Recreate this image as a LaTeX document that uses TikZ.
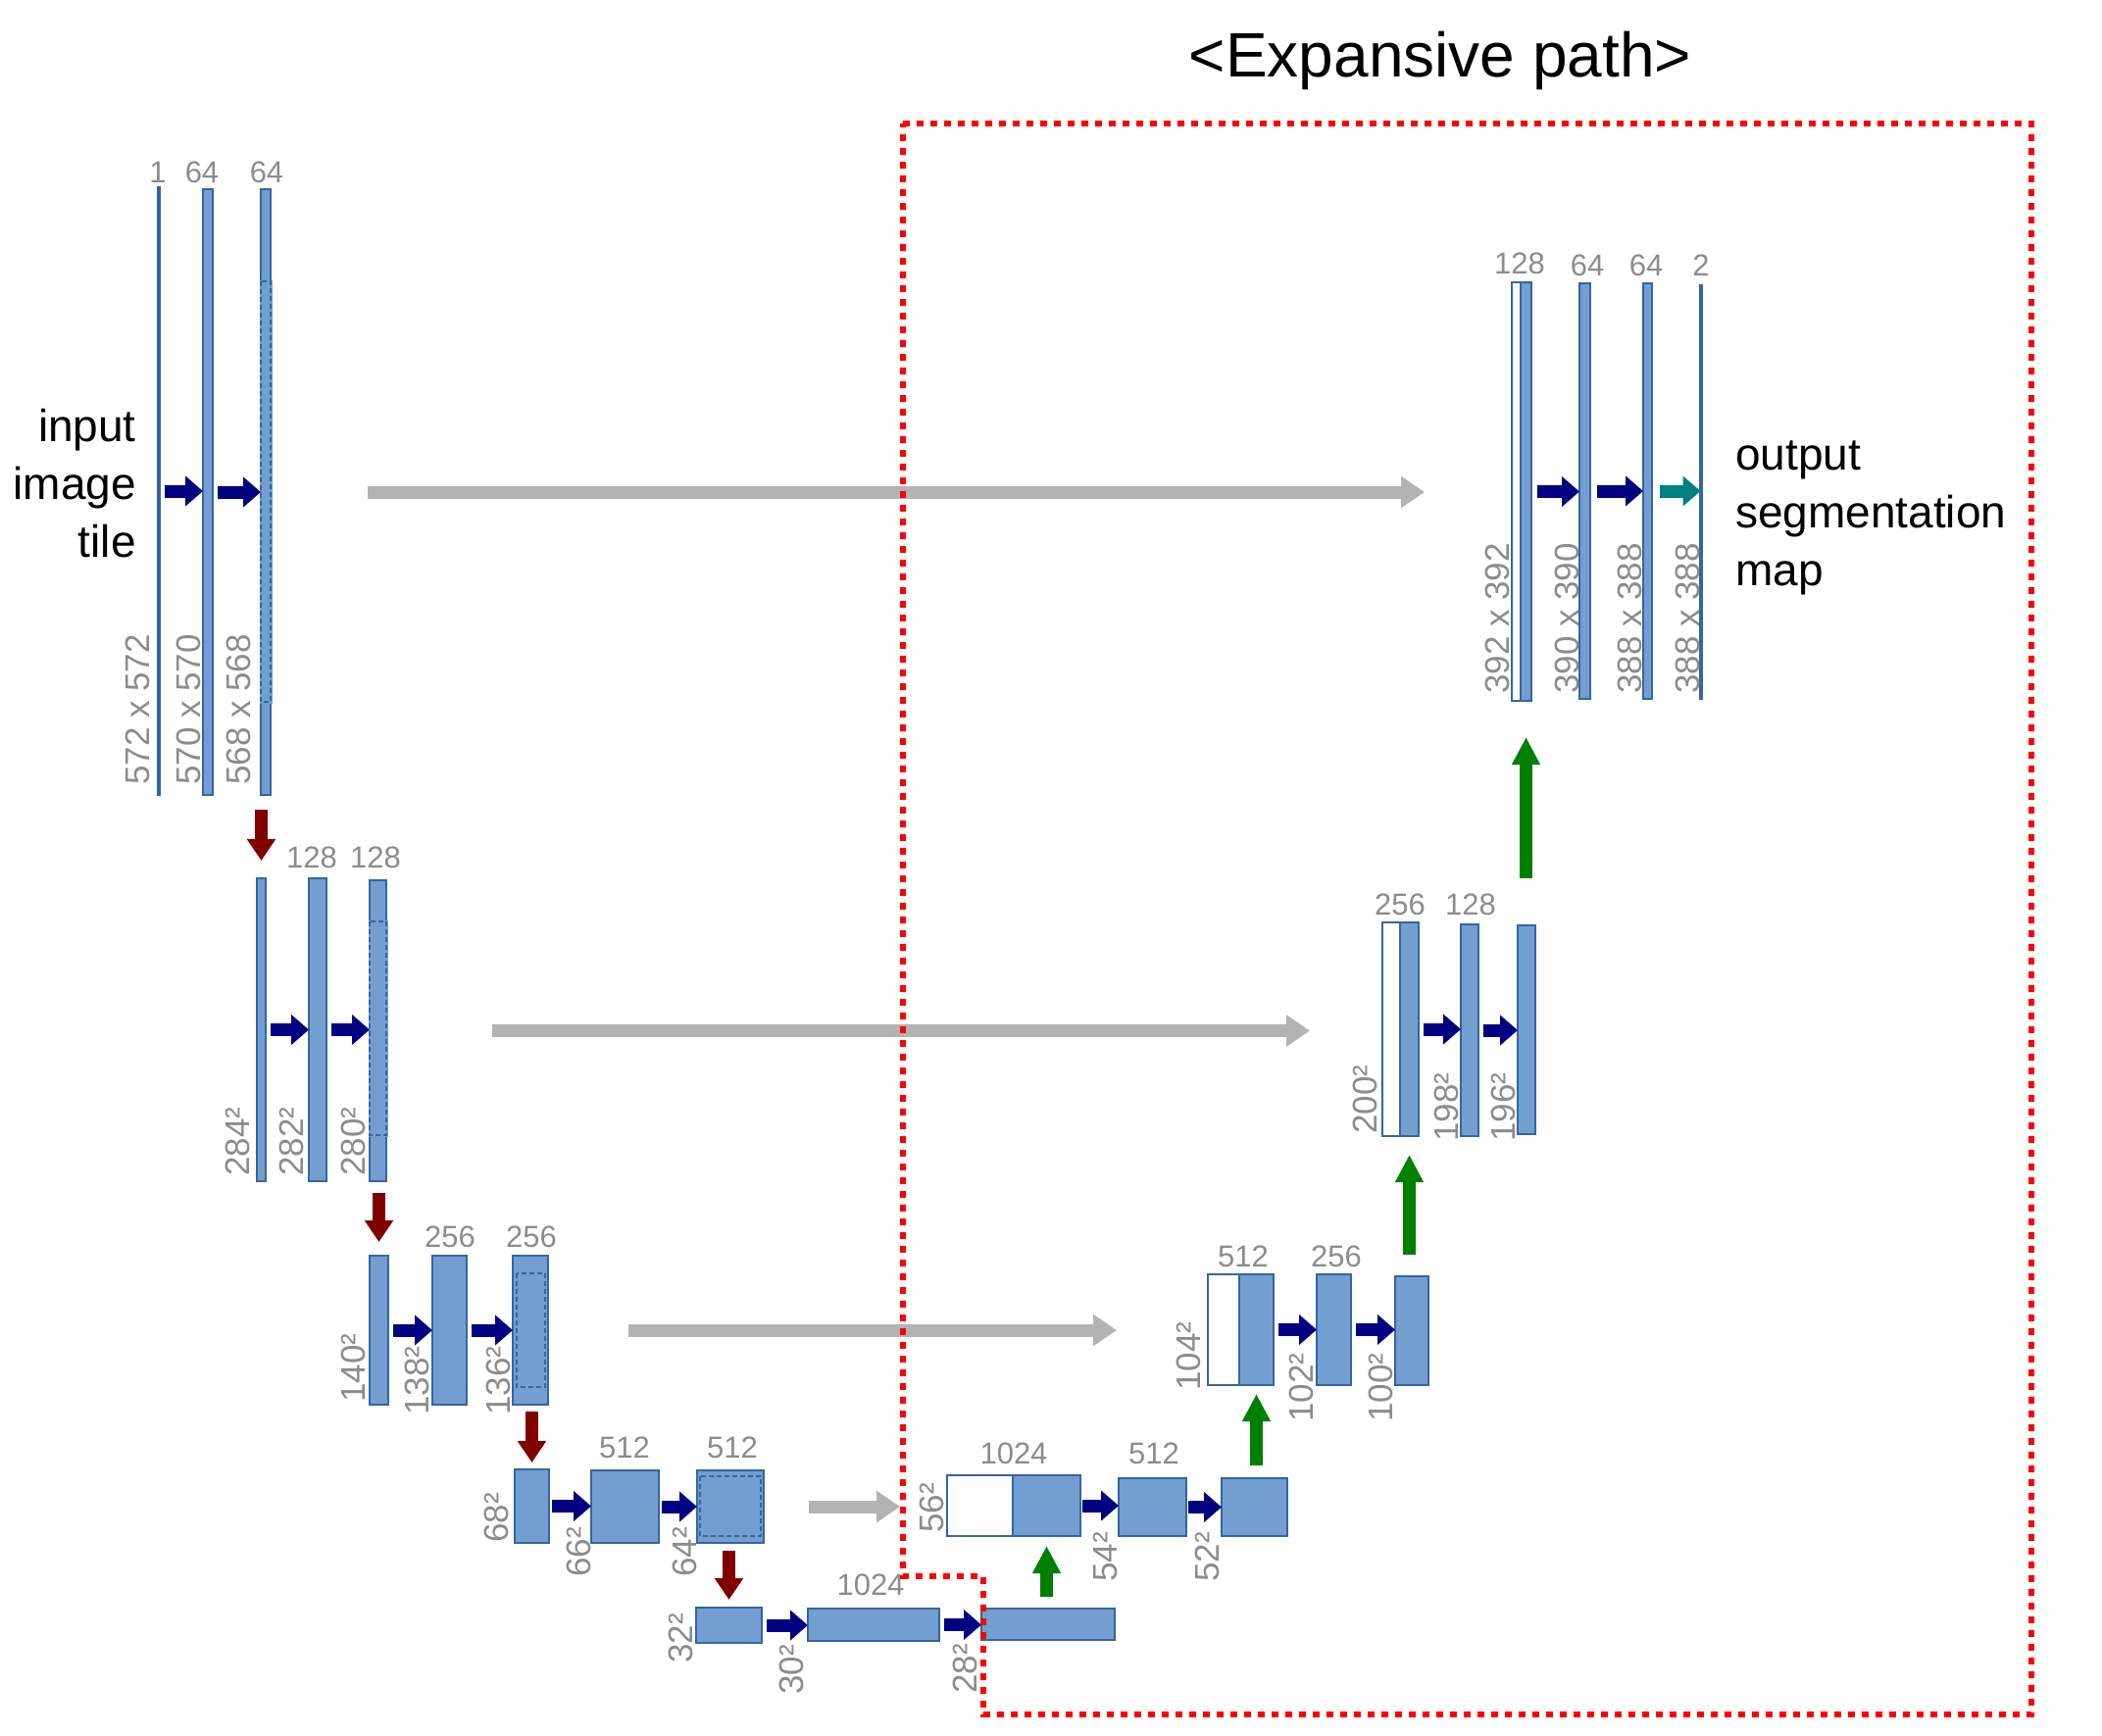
\documentclass[tikz,border=0pt]{standalone}
\usepackage{fontspec}
\setmainfont{Liberation Sans}
\usetikzlibrary{arrows.meta,calc}
\definecolor{barfill}{HTML}{729FCF}
\definecolor{bardraw}{HTML}{3465A4}
\definecolor{convblue}{HTML}{000080}
\definecolor{poolred}{HTML}{800000}
\definecolor{upgreen}{HTML}{008000}
\definecolor{outteal}{HTML}{008080}
\definecolor{skipgray}{HTML}{B3B3B3}
\definecolor{lblgray}{HTML}{8C8C8C}
\definecolor{boxred}{HTML}{FF0000}
\begin{document}
\begin{tikzpicture}[x=1pt,y=-1pt,
  blk/.style={rectangle, draw=bardraw, fill=barfill, line width=2.5pt, inner sep=0pt, outer sep=0pt, anchor=north west},
  wblk/.style={blk, fill=white},
  lbl/.style={text=lblgray, font=\fontsize{31}{36}\selectfont, inner sep=0pt},
  rlbl/.style={text=lblgray, font=\fontsize{35}{40}\selectfont, inner sep=0pt, rotate=90, anchor=west},
  conv/.style={draw=convblue, line width=13pt, shorten <=5pt, -{Triangle[length=18pt,width=30pt]}},
  pool/.style={draw=poolred, line width=13pt, -{Triangle[length=22pt,width=28pt]}},
  upc/.style={draw=upgreen, line width=13pt, -{Triangle[length=28pt,width=27pt]}},
  skip/.style={draw=skipgray, line width=13pt, -{Triangle[length=24pt,width=31pt]}},
  dashovr/.style={draw=bardraw, line width=2.8pt, dash pattern=on 5pt off 3pt},
  erase/.style={draw=barfill, line width=3pt},
  bigtxt/.style={font=\fontsize{46}{59}\selectfont, inner sep=0pt}
]
\useasboundingbox (0,0) rectangle (2144,1770);

% title
\node[font=\fontsize{64}{77}\selectfont, inner sep=0pt] (title) at (1469,62) {<Expansive path>};

% ---------- level 1 ----------
\node[blk, minimum width=1pt, minimum height=620pt] (b11) at (161.5,191) {};
\node[blk, minimum width=10pt, minimum height=618pt] (b12) at (207,193) {};
\node[blk, minimum width=10pt, minimum height=618pt] (b13) at (266,193) {};
\draw[erase] (266,287) rectangle (276,716);
\draw[dashovr] (266,287) rectangle (276,716);

% ---------- level 2 ----------
\node[blk, minimum width=9pt, minimum height=309pt] (b21) at (262,896) {};
\node[blk, minimum width=18pt, minimum height=309pt] (b22) at (315,896) {};
\node[blk, minimum width=17pt, minimum height=307pt] (b23) at (377,898) {};
\draw[erase] (377,940) rectangle (394,1158);
\draw[dashovr] (377,940) rectangle (394,1158);

% ---------- level 3 ----------
\node[blk, minimum width=19pt, minimum height=152pt] (b31) at (377,1281) {};
\node[blk, minimum width=35pt, minimum height=152pt] (b32) at (441,1281) {};
\node[blk, minimum width=36pt, minimum height=152pt] (b33) at (523,1281) {};
\draw[dashovr] (527,1299) rectangle (556,1415);

% ---------- level 4 ----------
\node[blk, minimum width=35pt, minimum height=75pt] (b41) at (525,1499) {};
\node[blk, minimum width=69pt, minimum height=74pt] (b42) at (603,1500) {};
\node[blk, minimum width=68pt, minimum height=74pt] (b43) at (711,1500) {};
\draw[dashovr] (714,1506) rectangle (776,1567);

% ---------- level 5 ----------
\node[blk, minimum width=67pt, minimum height=36pt] (b51) at (710,1640) {};
\node[blk, minimum width=134pt, minimum height=33pt] (b52) at (824,1641) {};
\node[blk, minimum width=136pt, minimum height=32pt] (b53) at (1001,1641) {};

% ---------- up level 4 ----------
\node[wblk, minimum width=67pt, minimum height=62pt] (u4w) at (966,1505) {};
\node[blk, minimum width=69pt, minimum height=62pt] (u4b) at (1033,1505) {};
\node[blk, minimum width=69pt, minimum height=59pt] (u4c) at (1141,1508) {};
\node[blk, minimum width=67pt, minimum height=59pt] (u4d) at (1246,1508) {};

% ---------- up level 3 ----------
\node[wblk, minimum width=32pt, minimum height=113pt] (u3w) at (1232,1300) {};
\node[blk, minimum width=35pt, minimum height=113pt] (u3b) at (1264,1300) {};
\node[blk, minimum width=35pt, minimum height=113pt] (u3c) at (1343,1300) {};
\node[blk, minimum width=34pt, minimum height=111pt] (u3d) at (1423,1302) {};

% ---------- up level 2 ----------
\node[wblk, minimum width=18pt, minimum height=218pt] (u2w) at (1410,941) {};
\node[blk, minimum width=19pt, minimum height=218pt] (u2b) at (1428,941) {};
\node[blk, minimum width=18pt, minimum height=216pt] (u2c) at (1490,943) {};
\node[blk, minimum width=18pt, minimum height=213pt] (u2d) at (1548,944) {};

% ---------- up level 1 ----------
\node[wblk, minimum width=9pt, minimum height=427pt] (u1w) at (1542,288) {};
\node[blk, minimum width=11pt, minimum height=427pt] (u1b) at (1551,288) {};
\node[blk, minimum width=11pt, minimum height=424pt] (u1c) at (1611,289) {};
\node[blk, minimum width=9pt, minimum height=424pt] (u1d) at (1676,289) {};
\node[blk, minimum width=1pt, minimum height=422pt] (u1e) at (1734.5,291) {};

% ---------- conv arrows ----------
\draw[conv] (b11.east) -- (b11.east -| b12.west);
\draw[conv] (b12.east) -- (b12.east -| b13.west);
\draw[conv] (b21.east) -- (b21.east -| b22.west);
\draw[conv] (b22.east) -- (b22.east -| b23.west);
\draw[conv] (b31.east) -- (b31.east -| b32.west);
\draw[conv] (b32.east) -- (b32.east -| b33.west);
\draw[conv, shorten <=3pt] (b41.east) -- (b41.east -| b42.west);
\draw[conv, shorten <=3pt] (b42.east) -- (b42.east -| b43.west);
\draw[conv] (b51.east) -- (b51.east -| b52.west);
\draw[conv] (b52.east) -- (b52.east -| b53.west);
\draw[conv, shorten <=2pt] (u4b.east) -- (u4b.east -| u4c.west);
\draw[conv, shorten <=2pt] (u4c.east) -- (u4c.east -| u4d.west);
\draw[conv] (u3b.east) -- (u3b.east -| u3c.west);
\draw[conv] (u3c.east) -- (u3c.east -| u3d.west);
\draw[conv] (u2b.east) -- (u2b.east -| u2c.west);
\draw[conv] (u2c.east) -- (u2c.east -| u2d.west);
\draw[conv, shorten <=6pt] (u1b.east) -- (u1b.east -| u1c.west);
\draw[conv, shorten <=7pt] (u1c.east) -- (u1c.east -| u1d.west);
\draw[conv, draw=outteal, shorten <=8pt] (u1d.east) -- (u1d.east -| u1e.west);

% ---------- pooling arrows ----------
\draw[pool, shorten <=15pt, shorten >=18pt] (b13.south -| b21.north) -- (b21.north);
\draw[pool, shorten <=12pt, shorten >=14pt] (b23.south -| b31.north) -- (b31.north);
\draw[pool, shorten <=7pt, shorten >=7pt] (b33.south -| b41.north) -- (b41.north);
\draw[pool, shorten <=8pt, shorten >=8pt] (b43.south -| b51.north) -- (b51.north);

% ---------- up-conv arrows ----------
\draw[upc, shorten <=12pt, shorten >=10pt] (b53.north -| u4b.south) -- (u4b.south);
\draw[upc, shorten <=13pt, shorten >=9pt] (u4d.north -| u3b.south) -- (u3b.south);
\draw[upc, shorten <=22pt, shorten >=19pt] (u3d.north -| u2b.south) -- (u2b.south);
\draw[upc, shorten <=48pt, shorten >=37pt] (u2d.north -| u1b.south) -- (u1b.south);

% ---------- skip connections ----------
\draw[skip, shorten <=99pt, shorten >=89pt] (b13.east) -- (b13.east -| u1w.west);
\draw[skip, shorten <=108pt, shorten >=74pt] (b23.east) -- (b23.east -| u2w.west);
\draw[skip, shorten <=82pt, shorten >=93pt] (b33.east) -- (b33.east -| u3w.west);
\draw[skip, shorten <=46pt, shorten >=48pt] (b43.east) -- (b43.east -| u4w.west);

% ---------- channel labels ----------
\node[lbl] (t11) at (161,176) {1};
\node[lbl] (t12) at (206,176) {64};
\node[lbl] (t13) at (272,176) {64};
\node[lbl] (t22) at (318,875) {128};
\node[lbl] (t23) at (383,875) {128};
\node[lbl] (t32) at (459,1262) {256};
\node[lbl] (t33) at (542,1262) {256};
\node[lbl] (t42) at (637,1477) {512};
\node[lbl] (t43) at (747,1477) {512};
\node[lbl] (t52) at (888,1617) {1024};
\node[lbl] (tu4b) at (1034,1483) {1024};
\node[lbl] (tu4c) at (1177,1483) {512};
\node[lbl] (tu3b) at (1268,1282) {512};
\node[lbl] (tu3c) at (1363,1282) {256};
\node[lbl] (tu2b) at (1428,923) {256};
\node[lbl] (tu2c) at (1500,923) {128};
\node[lbl] (tu1b) at (1550,269) {128};
\node[lbl] (tu1c) at (1619,271) {64};
\node[lbl] (tu1d) at (1679,271) {64};
\node[lbl] (tu1e) at (1735,271) {2};

% ---------- size labels ----------
\node[rlbl] (s11) at (140,801) {572 x 572};
\node[rlbl] (s12) at (192,801) {570 x 570};
\node[rlbl] (s13) at (243,801) {568 x 568};
\node[rlbl] (s21) at (242,1200) {284²};
\node[rlbl] (s22) at (297,1200) {282²};
\node[rlbl] (s23) at (360,1200) {280²};
\node[rlbl] (s31) at (360,1431) {140²};
\node[rlbl] (s32) at (425,1444) {138²};
\node[rlbl] (s33) at (508,1444) {136²};
\node[rlbl] (s41) at (506,1574) {68²};
\node[rlbl] (s42) at (590,1609) {66²};
\node[rlbl] (s43) at (698,1609) {64²};
\node[rlbl] (s51) at (694,1697) {32²};
\node[rlbl] (s52) at (807,1729) {30²};
\node[rlbl] (s53) at (984,1728) {28²};
\node[rlbl] (su4) at (950,1564) {56²};
\node[rlbl] (su4c) at (1128,1614) {54²};
\node[rlbl] (su4d) at (1231,1614) {52²};
\node[rlbl] (su3) at (1212,1419) {104²};
\node[rlbl] (su3c) at (1327,1451) {102²};
\node[rlbl] (su3d) at (1408,1451) {100²};
\node[rlbl] (su2) at (1392,1157) {200²};
\node[rlbl] (su2c) at (1475,1165) {198²};
\node[rlbl] (su2d) at (1533,1165) {196²};
\node[rlbl] (su1) at (1527,708) {392 x 392};
\node[rlbl] (su1c) at (1598,708) {390 x 390};
\node[rlbl] (su1d) at (1662,708) {388 x 388};
\node[rlbl] (su1e) at (1721,708) {388 x 388};

% ---------- side texts ----------
\node[bigtxt, align=right, anchor=east] (intxt) at (139,493) {input\\image\\tile};
\node[bigtxt, align=left, anchor=west] (outtxt) at (1770,528) {output\\segmentation\\map};

% ---------- expansive path box ----------
\draw[boxred, line width=6pt, dash pattern=on 7pt off 7pt]
  (921,126) -- (2072,126) -- (2072,1749) -- (1003,1749) -- (1003,1608) -- (921,1608) -- cycle;
\end{tikzpicture}
\end{document}
